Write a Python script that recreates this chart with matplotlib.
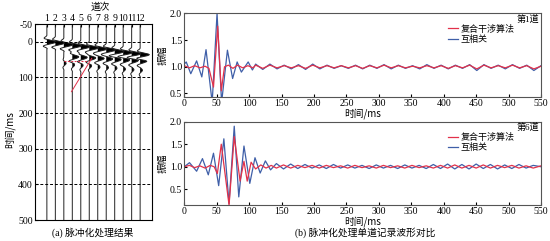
import matplotlib
matplotlib.use("Agg")
import matplotlib.pyplot as plt
import numpy as np

plt.rcParams['font.family'] = ['Liberation Serif', 'Noto Sans CJK SC']
plt.rcParams['font.size'] = 7
plt.rcParams['axes.unicode_minus'] = False
plt.rcParams['axes.linewidth'] = 0.8

RED = '#e2314a'
BLUE = '#3f5fa8'
CJK = ['Noto Sans CJK SC', 'DejaVu Sans']

# ---------------- panel (a): wiggle traces ----------------
trace_no = [1, 2, 3, 4, 5, 6, 7, 8, 9, 10, 11, 12]
direct_ms = [0, 3, 7, 10, 13, 17, 20, 23, 27, 30, 33, 36]
second_traces = [4, 5, 6, 7, 8, 9, 10, 11, 12]
second_ms = [42, 44, 45, 47, 48, 50, 51, 52, 54]
ring_traces = [3, 4, 5, 6, 7, 8, 9, 10, 11, 12]
ring_ms = [60, 64, 66, 68, 70, 72, 74, 76, 78, 80]
# wavelet, one sample per 1.5 ms, peak at index 11
wavelet = [-0.05, -0.1, -0.2, -0.3, -0.35, -0.3, -0.1, 0.2, 0.55, 0.85, 1.05,
           1.15, 1.1, 0.95, 0.7, 0.4, 0.1, -0.15, -0.35, -0.45, -0.4, -0.25,
           -0.1, 0.0, 0.05]
peak_idx = 11
dt = 1.5

# ---------------- panel (b): single-trace comparison ----------------
up_red_ms = [0, 8, 16, 24, 32, 38, 45, 51.5, 57, 62, 68, 75, 82, 90, 98, 106]
up_red_v = [1.02, 0.98, 1.02, 0.98, 1.01, 0.97, 0.62, 1.76, 0.55, 1.0, 1.03,
            0.97, 1.03, 0.98, 1.02, 0.98]
up_blue_ms = [0, 3, 10, 19, 27, 33.5, 43, 50.5, 57.5, 66.5, 74.5, 81.5, 88,
              98.5, 105]
up_blue_v = [1.05, 1.09, 0.87, 1.11, 0.81, 1.32, 0.33, 2.0, 0.33, 1.31, 0.78,
             1.09, 0.90, 1.09, 0.94]
up_tail_ms = [110, 121, 132, 143, 154, 165, 176, 187, 198, 209, 220, 231, 242,
              253, 264, 275, 286, 297, 308, 319, 330, 341, 352, 363, 374, 385,
              396, 407, 418, 429, 440, 451, 462, 473, 484, 495, 506, 517, 528,
              539, 550]
up_tail_blue = [1.05, 0.95, 1.05, 0.96, 1.03, 0.96, 1.04, 0.95, 1.05, 0.96,
                1.03, 0.97, 1.02, 0.97, 1.03, 0.96, 1.03, 0.97, 1.04, 0.96,
                1.03, 0.97, 1.02, 0.96, 1.04, 0.97, 1.03, 0.96, 1.03, 0.97,
                1.04, 0.93, 1.04, 0.97, 1.03, 0.96, 1.04, 0.97, 1.03, 0.93,
                1.02]
up_tail_red = [1.03, 0.97, 1.03, 0.98, 1.02, 0.98, 1.02, 0.97, 1.03, 0.98,
               1.02, 0.98, 1.02, 0.98, 1.02, 0.97, 1.02, 0.98, 1.03, 0.98,
               1.02, 0.98, 1.01, 0.98, 1.02, 0.98, 1.02, 0.97, 1.02, 0.98,
               1.03, 0.96, 1.03, 0.98, 1.02, 0.98, 1.03, 0.98, 1.02, 0.96,
               1.01]

lo_red_ms = [0, 8, 16, 24, 32, 40, 46, 51, 57, 69, 77, 86, 92, 97, 103, 110,
             118, 126, 134]
lo_red_v = [1.0, 1.03, 0.98, 1.02, 0.97, 1.03, 1.0, 0.85, 1.5, 0.15, 1.67,
            0.68, 1.12, 0.68, 1.1, 0.95, 1.04, 0.97, 1.03]
lo_blue_ms = [0, 8, 19, 28, 37, 45, 53, 61, 69, 77, 84, 92, 101, 109, 117, 125,
              133]
lo_blue_v = [1.0, 1.09, 0.90, 1.18, 0.82, 1.30, 0.58, 1.62, 0.18, 1.90, 0.33,
             1.46, 0.63, 1.20, 0.86, 1.13, 0.93]
lo_tail_ms = [142, 153, 164, 175, 186, 197, 208, 219, 230, 241, 252, 263, 274,
              285, 296, 307, 318, 329, 340, 351, 362, 373, 384, 395, 406, 417,
              428, 439, 450, 461, 472, 483, 494, 505, 516, 527, 538, 550]
lo_tail_blue = [1.07, 0.95, 1.06, 0.96, 1.05, 0.97, 1.04, 0.96, 1.05, 0.97,
                1.04, 0.97, 1.03, 0.96, 1.04, 0.97, 1.03, 0.96, 1.04, 0.97,
                1.03, 0.96, 1.05, 0.96, 1.06, 0.95, 1.05, 0.95, 1.06, 0.96,
                1.05, 0.95, 1.04, 0.96, 1.05, 0.97, 1.03, 1.0]
lo_tail_red = [0.97, 1.04, 0.97, 1.03, 0.98, 1.03, 0.97, 1.03, 0.98, 1.02,
               0.97, 1.03, 0.98, 1.02, 0.97, 1.03, 0.98, 1.02, 0.97, 1.03,
               0.98, 1.02, 0.97, 1.03, 0.97, 1.04, 0.97, 1.03, 0.97, 1.04,
               0.97, 1.03, 0.98, 1.03, 0.97, 1.02, 0.97, 1.02]

fig = plt.figure(figsize=(5.5, 2.41), dpi=100)
W, H = 550.0, 241.0


def box(l, t, r, b):
    return [l / W, 1 - b / H, (r - l) / W, (b - t) / H]


# ---- (a)
axa = fig.add_axes(box(35, 24, 152, 220))
t_grid = np.arange(-45, 501, dt)
w = np.array(wavelet)
gain = 0.95


def place(amp, t0, scale):
    i = int(round((t0 - t_grid[0]) / dt)) - peak_idx
    amp[i:i + len(w)] += scale * w


for k, n in enumerate(trace_no):
    amp = np.zeros_like(t_grid)
    place(amp, direct_ms[k], 1.0)
    if n in second_traces:
        place(amp, second_ms[second_traces.index(n)], 0.7)
    if n in ring_traces:
        place(amp, ring_ms[ring_traces.index(n)], 0.25)
    xs = n + gain * amp
    axa.fill_betweenx(t_grid, n, xs, where=amp > 0, color='k', lw=0,
                      interpolate=True)
    axa.plot(xs, t_grid, color='#222222', lw=0.7)

for y in [0, 100, 200, 300, 400]:
    axa.axhline(y, color='k', lw=0.7, ls=(0, (3, 2)))
axa.plot([3.0, 5.9], [53, 53], color=RED, lw=0.7, ls=(0, (2, 1.5)))
axa.plot([3.9, 6.3], [140, 46], color=RED, lw=0.7)

axa.set_xlim(-0.4, 13.4)
axa.set_ylim(500, -50)
axa.xaxis.tick_top()
axa.set_xticks(trace_no)
axa.set_xticklabels([str(n) for n in trace_no])
axa.set_yticks([-50, 0, 100, 200, 300, 400, 500])
axa.tick_params(direction='in', length=2, pad=1.5, labelsize=7)
axa.tick_params(axis='x', pad=1)
fig.text(100 / W, 1 - 7 / H, '道次', ha='center', va='center', fontsize=7,
         family=CJK)
fig.text(10 / W, 1 - 130 / H, '时间/ms', ha='center', va='center',
         rotation=90, fontsize=7, family=CJK)
fig.text(93 / W, 1 - 233 / H, '(a) 脉冲化处理结果', ha='center', va='center',
         fontsize=7)


# ---- (b)
def panel(ax, red_t, red_v, blue_t, blue_v, ylo, yticks, tag):
    hb, = ax.plot(blue_t, blue_v, color=BLUE, lw=0.9)
    hr, = ax.plot(red_t, red_v, color=RED, lw=0.9)
    ax.set_xlim(0, 550)
    ax.set_ylim(ylo, 2.0)
    ax.set_xticks(range(0, 551, 50))
    ax.set_yticks(yticks)
    ax.set_yticklabels(['%.1f' % v for v in yticks])
    ax.tick_params(direction='in', length=2.5, pad=1.5, labelsize=7)
    for s in ax.spines.values():
        s.set_color('#555555')
    ax.text(0.995, 0.975, tag, transform=ax.transAxes, ha='right', va='top',
            fontsize=6.5)
    ax.legend([hr, hb], ['复合干涉算法', '互相关'], frameon=False,
              loc='upper right', bbox_to_anchor=(0.94, 0.93),
              handlelength=1.1, handletextpad=0.2, labelspacing=0.15,
              borderpad=0.1, prop={'family': CJK, 'size': 6.5})
    ax.set_ylabel('振幅', family=CJK, fontsize=7, labelpad=2)
    ax.set_xlabel('时间/ms', family=CJK, fontsize=7, labelpad=0)


axu = fig.add_axes(box(184.3, 13.3, 541, 96.7))
panel(axu, up_red_ms + up_tail_ms, up_red_v + up_tail_red,
      up_blue_ms + up_tail_ms, up_blue_v + up_tail_blue,
      0.44, [0.5, 1.0, 1.5, 2.0], '第1道')
axl = fig.add_axes(box(184.3, 121.7, 541, 205))
panel(axl, lo_red_ms + lo_tail_ms, lo_red_v + lo_tail_red,
      lo_blue_ms + lo_tail_ms, lo_blue_v + lo_tail_blue,
      0.15, [0.5, 1.0, 1.5, 2.0], '第6道')
fig.text(365 / W, 1 - 233 / H, '(b) 脉冲化处理单道记录波形对比', ha='center',
         va='center', fontsize=7)

fig.savefig('out.png', dpi=100)
